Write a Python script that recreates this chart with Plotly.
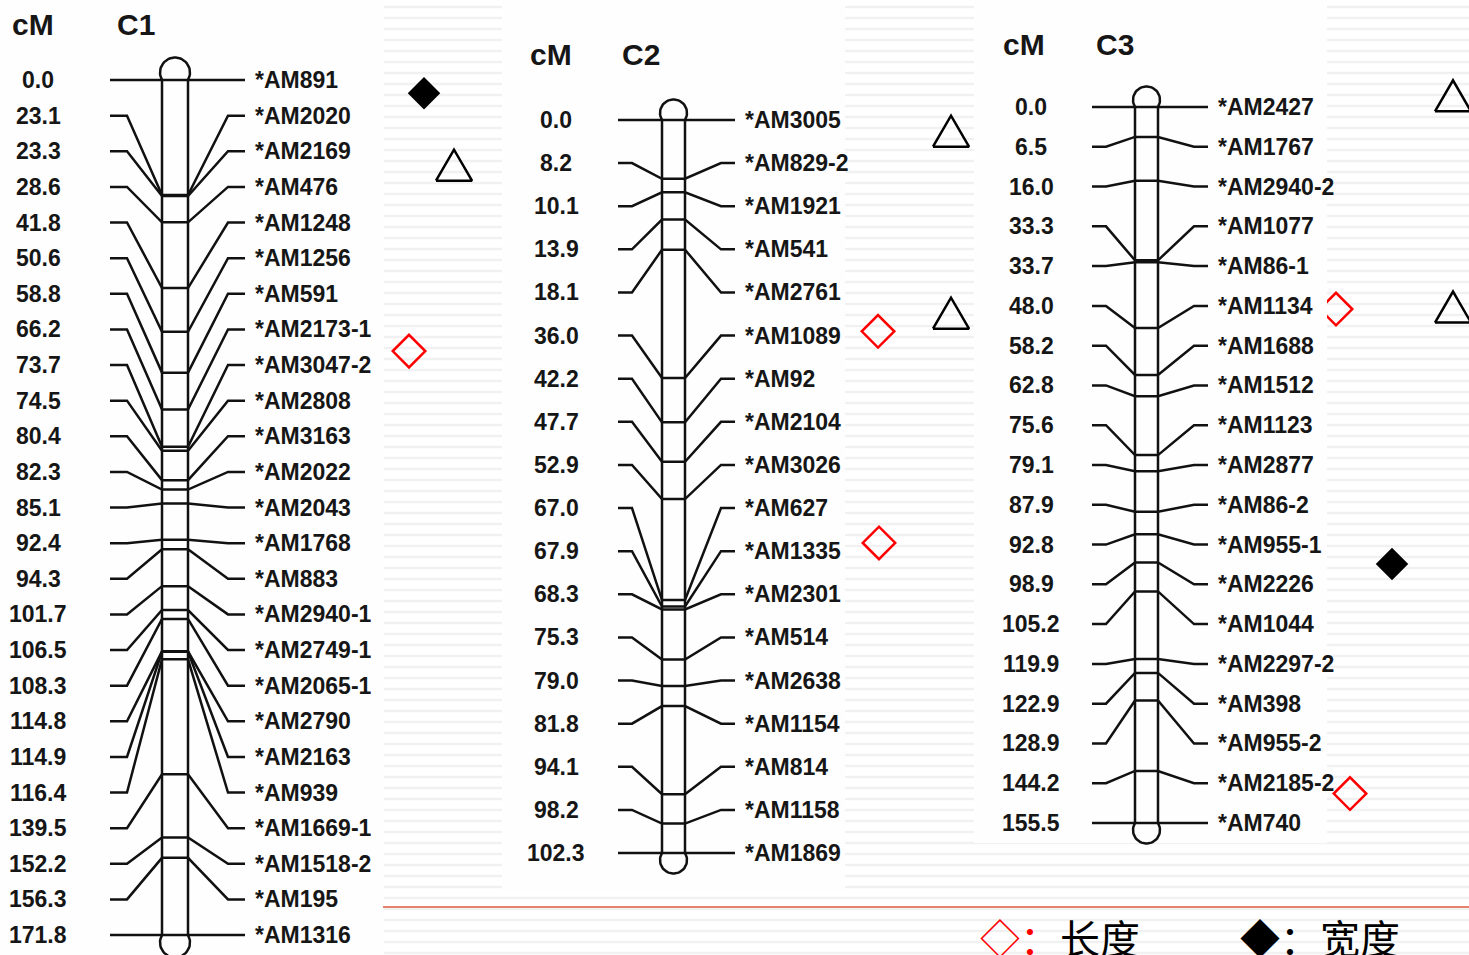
import numpy as np
import plotly.graph_objects as go

# ---------------- linkage map data ----------------
c1_cm = [0.0, 23.1, 23.3, 28.6, 41.8, 50.6, 58.8, 66.2, 73.7, 74.5, 80.4, 82.3, 85.1,
         92.4, 94.3, 101.7, 106.5, 108.3, 114.8, 114.9, 116.4, 139.5, 152.2, 156.3, 171.8]
c1_markers = ["AM891", "AM2020", "AM2169", "AM476", "AM1248", "AM1256", "AM591",
              "AM2173-1", "AM3047-2", "AM2808", "AM3163", "AM2022", "AM2043", "AM1768",
              "AM883", "AM2940-1", "AM2749-1", "AM2065-1", "AM2790", "AM2163", "AM939",
              "AM1669-1", "AM1518-2", "AM195", "AM1316"]

c2_cm = [0.0, 8.2, 10.1, 13.9, 18.1, 36.0, 42.2, 47.7, 52.9, 67.0, 67.9, 68.3, 75.3,
         79.0, 81.8, 94.1, 98.2, 102.3]
c2_markers = ["AM3005", "AM829-2", "AM1921", "AM541", "AM2761", "AM1089", "AM92",
              "AM2104", "AM3026", "AM627", "AM1335", "AM2301", "AM514", "AM2638",
              "AM1154", "AM814", "AM1158", "AM1869"]

c3_cm = [0.0, 6.5, 16.0, 33.3, 33.7, 48.0, 58.2, 62.8, 75.6, 79.1, 87.9, 92.8, 98.9,
         105.2, 119.9, 122.9, 128.9, 144.2, 155.5]
c3_markers = ["AM2427", "AM1767", "AM2940-2", "AM1077", "AM86-1", "AM1134", "AM1688",
              "AM1512", "AM1123", "AM2877", "AM86-2", "AM955-1", "AM2226", "AM1044",
              "AM2297-2", "AM398", "AM955-2", "AM2185-2", "AM740"]

# QTL symbols: trait code and position in marker-row units (0 = first marker row)
# W = 宽度 (width), L = 长度 (length), T = triangle-marked trait
c1_qtl_trait = ["W", "T", "L"]
c1_qtl_row = [0.37, 2.39, 7.61]
c2_qtl_trait = ["T", "T", "L", "L"]
c2_qtl_row = [0.26, 4.48, 4.90, 9.81]
c3_qtl_trait = ["T", "T", "L", "W", "L"]
c3_qtl_row = [-0.28, 5.03, 5.08, 11.49, 17.26]

legend_items = [("◇", "长度"), ("◆", "宽度")]

# ---------------- page geometry (pixels) ----------------
W, H = 1469, 955
LAYOUT = {
    "C1": dict(cm=c1_cm, names=c1_markers, qtl_t=c1_qtl_trait, qtl_r=c1_qtl_row,
               top=80, bottom=935, cm_x=38, hl0=110, hl1=127, rod=(162, 188),
               hr1=228, hr2=245, lab_x=253, head_y=24, cm_head_x=33, name_x=136,
               panel=(0, 384, 0, 955), qtl_x=[424, 454, 409]),
    "C2": dict(cm=c2_cm, names=c2_markers, qtl_t=c2_qtl_trait, qtl_r=c2_qtl_row,
               top=120, bottom=853, cm_x=556, hl0=618, hl1=632, rod=(662, 685),
               hr1=721, hr2=735, lab_x=743, head_y=54, cm_head_x=551, name_x=641,
               panel=(502, 845, 0, 893), qtl_x=[951, 951, 878, 879]),
    "C3": dict(cm=c3_cm, names=c3_markers, qtl_t=c3_qtl_trait, qtl_r=c3_qtl_row,
               top=107, bottom=823, cm_x=1031, hl0=1092, hl1=1106, rod=(1135, 1158),
               hr1=1194, hr2=1208, lab_x=1216, head_y=44, cm_head_x=1024, name_x=1115,
               panel=(974, 1327, 0, 843), qtl_x=[1453, 1453, 1336, 1392, 1350]),
}

FONT = "Liberation Sans, Arial, sans-serif"
TEXT_COLOR = "#161616"
LINE_W = 2.5
DIAMOND_SIZE = 25
TRI_W, TRI_H = 36, 31

fig = go.Figure()
shapes = []
annotations = []

# faint slide stripes
for k in range(0, 88):
    y = 7 + 11 * k
    shapes.append(dict(type="rect", xref="x", yref="y", x0=0, x1=W, y0=y - 1.3, y1=y + 1.3,
                       fillcolor="#f1f1f1", line=dict(width=0), layer="below"))

# white panels behind each map
for key, L in LAYOUT.items():
    x0, x1, y0, y1 = L["panel"]
    shapes.append(dict(type="rect", xref="x", yref="y", x0=x0, x1=x1, y0=y0, y1=y1,
                       fillcolor="#fefefe", line=dict(width=0), layer="below"))

# divider line above the legend
shapes.append(dict(type="line", xref="x", yref="y", x0=383, x1=W, y0=907, y1=907,
                   line=dict(color="#E5836F", width=2)))


def telomere_cap(cx, y_end, half_w, direction):
    """Rounded cap: circular arc meeting the rod edges at y_end, bulging up (-1) or down (+1)."""
    r = half_w + 2.0
    off = np.sqrt(r ** 2 - half_w ** 2)
    a = np.arcsin(off / r)
    t = np.linspace(-a, np.pi + a, 40)
    yc = y_end + direction * off
    return list(cx + r * np.cos(t)), list(yc + direction * r * np.sin(t))


for key, L in LAYOUT.items():
    cm = np.array(L["cm"], dtype=float)
    n = len(cm)
    top, bottom = L["top"], L["bottom"]
    row_step = (bottom - top) / (n - 1)
    px_per_cm = (bottom - top) / cm.max()
    rl, rr = L["rod"]
    label_y = top + np.arange(n) * row_step
    chrom_y = top + cm * px_per_cm

    # connector lines: label row -> chromosome position -> label row
    xs, ys = [], []
    for ly, cy in zip(label_y, chrom_y):
        xs += [L["hl0"], L["hl1"], rl, rr, L["hr1"], L["hr2"], None]
        ys += [ly, ly, cy, cy, ly, ly, None]
    # chromosome rod
    xs += [rl, rl, None, rr, rr, None]
    ys += [chrom_y[0], chrom_y[-1], None, chrom_y[0], chrom_y[-1], None]
    # rounded telomere caps
    cx = (rl + rr) / 2
    hw = (rr - rl) / 2
    for y_end, d in ((chrom_y[0], -1), (chrom_y[-1], 1)):
        cxs, cys = telomere_cap(cx, y_end, hw, d)
        xs += cxs + [None]
        ys += cys + [None]

    fig.add_trace(go.Scatter(x=xs, y=ys, mode="lines", hoverinfo="skip",
                             line=dict(color="#111111", width=LINE_W), showlegend=False))

    # cM values and marker names
    for v, name, ly in zip(cm, L["names"], label_y):
        annotations.append(dict(x=L["cm_x"], y=ly, text=f"{v:.1f}", showarrow=False,
                                xanchor="center", yanchor="middle",
                                font=dict(family=FONT, size=23, color=TEXT_COLOR, weight="bold")))
        annotations.append(dict(x=L["lab_x"], y=ly, text="*" + name, showarrow=False,
                                xanchor="left", yanchor="middle",
                                font=dict(family=FONT, size=23, color=TEXT_COLOR, weight="bold")))
    # headers
    annotations.append(dict(x=L["cm_head_x"], y=L["head_y"], text="<b>cM</b>", showarrow=False,
                            xanchor="center", yanchor="middle",
                            font=dict(family=FONT, size=30, color=TEXT_COLOR)))
    annotations.append(dict(x=L["name_x"], y=L["head_y"], text=f"<b>{key}</b>", showarrow=False,
                            xanchor="center", yanchor="middle",
                            font=dict(family=FONT, size=30, color=TEXT_COLOR)))

    # QTL symbols
    qy = top + np.array(L["qtl_r"]) * row_step
    for trait, qx, y in zip(L["qtl_t"], L["qtl_x"], qy):
        if trait == "T":
            fig.add_trace(go.Scatter(
                x=[qx - TRI_W / 2, qx + TRI_W / 2, qx, qx - TRI_W / 2],
                y=[y + TRI_H / 2, y + TRI_H / 2, y - TRI_H / 2, y + TRI_H / 2],
                mode="lines", line=dict(color="black", width=2.5), hoverinfo="skip",
                showlegend=False))
        elif trait == "L":
            fig.add_trace(go.Scatter(
                x=[qx], y=[y], mode="markers", hoverinfo="skip", showlegend=False,
                marker=dict(symbol="diamond-open", size=DIAMOND_SIZE, color="#ff0000",
                            line=dict(color="#ff0000", width=2.5))))
        else:
            fig.add_trace(go.Scatter(
                x=[qx], y=[y], mode="markers", hoverinfo="skip", showlegend=False,
                marker=dict(symbol="diamond", size=DIAMOND_SIZE, color="black")))
        # symbols tucked partly behind a neighbouring panel get masked by it
        half = DIAMOND_SIZE * 0.65
        for other in LAYOUT.values():
            px0, px1, py0, py1 = other["panel"]
            if px0 < qx - half < px1 < qx and py0 < y < py1:
                shapes.append(dict(type="rect", xref="x", yref="y", x0=qx - half - 4, x1=px1,
                                   y0=y - half - 4, y1=y + half + 4, fillcolor="#fefefe",
                                   line=dict(width=0), layer="above"))

# legend text
leg_x = [978, 1238]
for (sym, label), lx in zip(legend_items, leg_x):
    sym_color = "#ff0000" if sym == "◇" else "#000000"
    annotations.append(dict(
        x=lx, y=937, xanchor="left", yanchor="middle", showarrow=False,
        text=f"<span style='color:{sym_color}'>{sym}：</span>{label}",
        font=dict(family="Noto Sans CJK SC", size=40, color="#000000")))

fig.update_layout(
    width=W, height=H,
    margin=dict(l=0, r=0, t=0, b=0),
    paper_bgcolor="white", plot_bgcolor="white",
    xaxis=dict(range=[0, W], visible=False, fixedrange=True),
    yaxis=dict(range=[H, 0], visible=False, fixedrange=True),
    shapes=shapes, annotations=annotations, showlegend=False,
)

fig.write_html("out.html")
